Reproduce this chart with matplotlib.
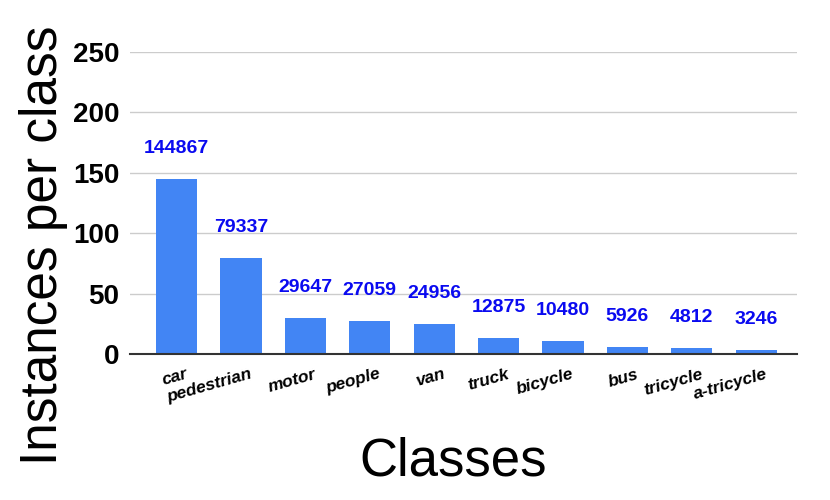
import matplotlib.pyplot as plt

plt.rcParams['font.family'] = ['Liberation Sans', 'DejaVu Sans']

classes = ['car', 'pedestrian', 'motor', 'people', 'van', 'truck',
           'bicycle', 'bus', 'tricycle', 'a-tricycle']
counts = [144867, 79337, 29647, 27059, 24956, 12875, 10480, 5926, 4812, 3246]
yticks = [0, 50, 100, 150, 200, 250]


def myplot():
    fig = plt.figure(figsize=(8.3, 5), dpi=100)
    ax = fig.add_axes([0.157, 0.292, 0.803, 0.604])
    x = list(range(len(classes)))
    heights = [c / 1000 for c in counts]
    ax.bar(x, heights, width=0.64, color='#4285F4', zorder=3)
    for xi, h, c in zip(x, heights, counts):
        ax.annotate(str(c), (xi, h), xytext=(0, 16), textcoords='offset points',
                    ha='center', va='bottom', color='#0a0af0',
                    fontsize=14, fontweight='bold')

    ax.set_ylim(0, 250)
    ax.set_xlim(-0.72, 9.63)
    ax.set_yticks(yticks)
    ax.set_yticklabels([str(t) for t in yticks], fontsize=20, fontweight='bold')
    ax.set_xticks(x)
    ax.set_xticklabels([])
    # class labels, slightly right of the bar centre and tilted
    for xi, name in zip(x, classes):
        ax.annotate(name, (xi, 0), xycoords=('data', 'axes fraction'),
                    xytext=(6, -9), textcoords='offset points',
                    rotation=16, rotation_mode='anchor', ha='right', va='top',
                    fontsize=12.5, fontweight='bold', fontstyle='italic')

    ax.tick_params(axis='both', length=0, pad=8)
    ax.grid(axis='y', color='#cccccc', linewidth=1, zorder=0)
    for s in ['top', 'right', 'left']:
        ax.spines[s].set_visible(False)
    ax.spines['bottom'].set_color('#333333')
    ax.spines['bottom'].set_linewidth(1.5)
    ax.spines['bottom'].set_zorder(4)

    fig.text(44 / 830, 1 - 245 / 500, 'Instances per class', fontsize=37,
             rotation=90, ha='center', va='center')
    fig.text(453 / 830, 1 - 462 / 500, 'Classes', fontsize=38,
             ha='center', va='center')
    fig.savefig('out.png', dpi=100)


if __name__ == "__main__":
    myplot()
